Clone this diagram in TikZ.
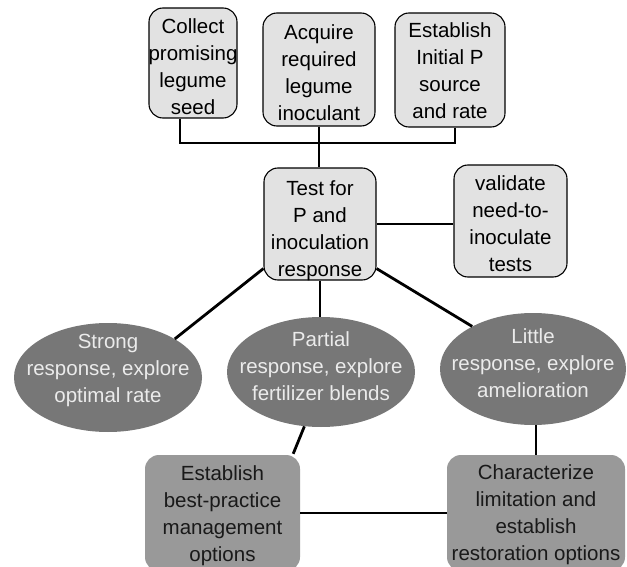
\documentclass[tikz,border=0pt]{standalone}
\usepackage{fontspec}
\setmainfont{Liberation Sans}
\usetikzlibrary{shapes.geometric}
\definecolor{topfill}{HTML}{E2E2E2}
\definecolor{ellfill}{HTML}{777777}
\definecolor{elltext}{HTML}{EBEBEB}
\definecolor{botfill}{HTML}{999999}
\newcommand\myLift[2]{\makebox[0pt]{\raisebox{#1}[0pt][0pt]{\begin{tabular}{@{}c@{}}#2\end{tabular}}}}
\begin{document}
\begin{tikzpicture}[x=1pt,y=-1pt,
  every node/.style={font=\fontsize{20.5}{27}\selectfont, inner sep=0pt, align=center},
  topbox/.style={draw=black, line width=1.1pt, fill=topfill, rounded corners=14pt},
  ellnode/.style={ellipse, fill=ellfill, text=elltext},
  botbox/.style={fill=botfill, rounded corners=14pt, text=black!90},
  link/.style={line width=2.8pt, black}]
\useasboundingbox (0,0) rectangle (627,567);
\clip (0,0) rectangle (627,567);

% top row
\node[topbox, minimum width=88pt, minimum height=110pt] (b1) at (193,63) {\myLift{-10.5pt}{Collect\\promising\\legume\\seed}};
\node[topbox, minimum width=112pt, minimum height=113pt] (b2) at (319,69.5) {\myLift{-10.5pt}{Acquire\\required\\legume\\inoculant}};
\node[topbox, minimum width=110pt, minimum height=114pt] (b3) at (450,70) {\myLift{-7.5pt}{Establish\\Initial P\\source\\and rate}};

% middle row
\node[topbox, minimum width=112pt, minimum height=112pt] (test) at (320,224) {\myLift{-11.5pt}{Test for\\P and\\inoculation\\response}};
\node[topbox, minimum width=113pt, minimum height=112pt] (val) at (510.5,221) {\myLift{-9.5pt}{validate\\need-to-\\inoculate\\tests}};

% ellipses
\node[ellnode, minimum width=188pt, minimum height=109pt] (strong) at (108,377.5) {\myLift{2pt}{Strong\\response, explore\\optimal rate}};
\node[ellnode, minimum width=188pt, minimum height=110pt] (partial) at (321,372) {\myLift{-1pt}{Partial\\response, explore\\fertilizer blends}};
\node[ellnode, minimum width=186pt, minimum height=112pt] (little) at (533,369) {\myLift{-1pt}{Little\\response, explore\\amelioration}};

% bottom row
\node[botbox, minimum width=155pt, minimum height=116pt] (estab) at (222.5,513) {\myLift{-7.5pt}{Establish\\best-practice\\management\\options}};
\node[botbox, minimum width=178pt, minimum height=116pt] (charact) at (536,513) {\myLift{-7pt}{Characterize\\limitation and\\establish\\restoration options}};

% connectors
\coordinate (jl) at (180,143);
\coordinate (jr) at (455,143);
\draw[link] (jl |- b1.south) -- (jl) -- (jr) -- (jr |- b3.south);
\draw[link] (b2.south) -- (b2.south |- test.north);
\draw[link] (test.east) -- (test.east -| val.west);
\draw[link] ([yshift=12pt]test.south west) -- (strong.30);
\draw[link] (test.south) -- (test.south |- partial.north);
\draw[link] ([yshift=12pt]test.south east) -- (little.145);
\draw[link] (partial.253) -- ([xshift=-7pt,yshift=1pt]estab.north east);
\draw[link] (charact.north) -- (charact.north |- little.south);
\draw[link] (estab.east) -- (charact.west);
\end{tikzpicture}
\end{document}
